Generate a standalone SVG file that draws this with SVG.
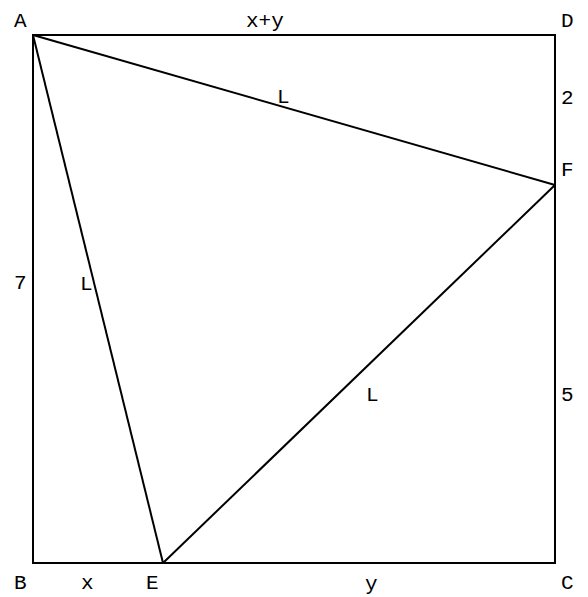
<svg xmlns="http://www.w3.org/2000/svg" width="588" height="597" viewBox="0 0 588 597">
<style>
.ln{stroke:#000;stroke-width:2;fill:none}
text{font-family:"Liberation Mono","Courier New",monospace;font-size:21px;fill:#000}
</style>
<rect width="588" height="597" fill="#fff"/>
<g id="connectors">
<rect class="ln" x="33" y="35" width="522" height="528"/>
<line class="ln" x1="33" y1="35" x2="555" y2="185"/>
<line class="ln" x1="33" y1="35" x2="163" y2="563"/>
<line class="ln" x1="163" y1="563" x2="555" y2="185"/>
</g>
<g id="A"><text x="14" y="27">A</text></g>
<g id="D"><text x="561" y="27">D</text></g>
<g id="B"><text x="14" y="589">B</text></g>
<g id="C"><text x="561" y="589">C</text></g>
<g id="E"><text x="146" y="589">E</text></g>
<g id="F"><text x="561" y="176">F</text></g>
<g id="labels">
<text x="246" y="27">x+y</text>
<text x="561" y="104">2</text>
<text x="561" y="401">5</text>
<text x="14" y="289">7</text>
<text x="81" y="589">x</text>
<text x="365" y="590">y</text>
<text x="277" y="103">L</text>
<text x="80" y="290">L</text>
<text x="366" y="401">L</text>
</g>
</svg>
